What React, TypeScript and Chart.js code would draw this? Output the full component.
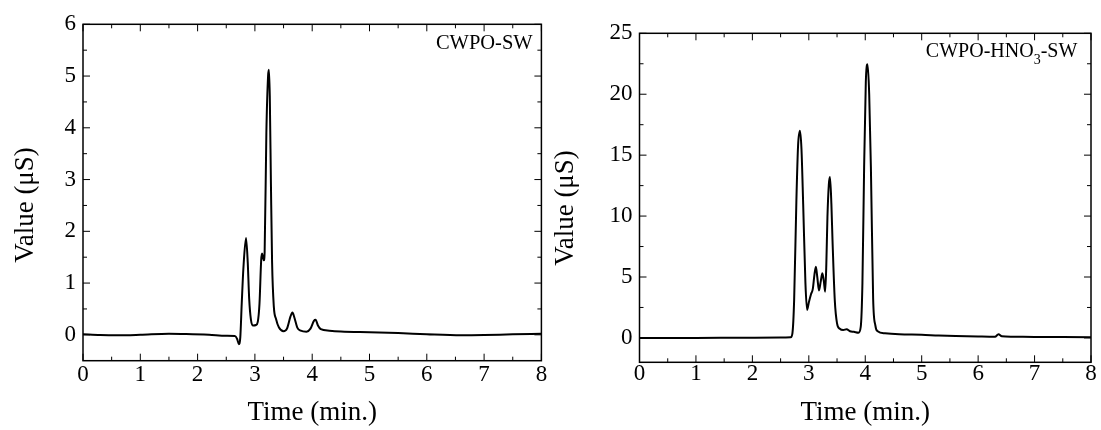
import React, { useEffect, useRef } from "react";
import { Chart, registerables } from "chart.js";

Chart.register(...registerables);

// ---------- data ----------
const leftTime = [
  0, 0.3, 0.6, 1.0, 1.5, 1.8, 2.2, 2.5, 2.65, 2.69, 2.72, 2.745, 2.77, 2.8, 2.845, 2.875, 2.9, 2.93,
  2.97, 3.02, 3.05, 3.08, 3.11, 3.125, 3.14, 3.155, 3.17, 3.2, 3.23, 3.245, 3.26, 3.28, 3.3, 3.33,
  3.37, 3.42, 3.5, 3.56, 3.62, 3.655, 3.69, 3.74, 3.8, 3.9, 3.97, 4.03, 4.06, 4.1, 4.15, 4.3, 4.5,
  5.0, 5.5, 6.0, 6.6, 7.0, 7.5, 8.0,
];
const leftValue = [
  0.01, -0.005, -0.01, 0.0, 0.02, 0.015, 0.0, -0.02, -0.025, -0.08, -0.18, -0.05, 0.6, 1.3, 1.87, 1.4,
  0.7, 0.3, 0.18, 0.19, 0.25, 0.6, 1.45, 1.57, 1.5, 1.44, 1.6, 3.9, 5.0, 5.12, 4.6, 2.9, 1.4, 0.55,
  0.3, 0.14, 0.07, 0.12, 0.35, 0.43, 0.33, 0.14, 0.08, 0.06, 0.12, 0.27, 0.29, 0.18, 0.11, 0.08, 0.065,
  0.05, 0.035, 0.01, -0.01, -0.005, 0.01, 0.02,
];

const rightTime = [
  0, 1.0, 1.8, 2.5, 2.68, 2.71, 2.74, 2.78, 2.81, 2.843, 2.87, 2.9, 2.94, 2.97, 3.0, 3.04, 3.07, 3.1,
  3.125, 3.15, 3.18, 3.21, 3.24, 3.265, 3.29, 3.31, 3.33, 3.355, 3.375, 3.4, 3.42, 3.46, 3.5, 3.55,
  3.61, 3.67, 3.73, 3.8, 3.88, 3.92, 3.95, 3.98, 4.01, 4.04, 4.07, 4.1, 4.14, 4.18, 4.22, 4.35, 4.6,
  5.0, 5.3, 5.6, 6.0, 6.3, 6.36, 6.42, 6.6, 7.0, 7.5, 8.0,
];
const rightValue = [
  0, 0, 0.02, 0.03, 0.05, 0.4, 3.1, 11.3, 15.8, 17.0, 15.5, 11.0, 4.5, 2.3, 2.9, 3.6, 4.0, 5.2, 5.84,
  5.0, 3.9, 4.6, 5.3, 4.7, 3.8, 6.0, 9.9, 12.6, 13.2, 11.0, 8.0, 3.1, 1.2, 0.75, 0.65, 0.72, 0.55, 0.5,
  0.43, 0.9, 4.5, 14, 21, 22.45, 20, 14, 3.2, 1.0, 0.55, 0.38, 0.3, 0.26, 0.2, 0.16, 0.12, 0.1, 0.3,
  0.13, 0.1, 0.08, 0.07, 0.06,
];

const xTickValues = [0, 1, 2, 3, 4, 5, 6, 7, 8];
const leftYTickValues = [0, 1, 2, 3, 4, 5, 6];
const rightYTickValues = [0, 5, 10, 15, 20, 25];

const leftLabelParts = ["CWPO-SW"];
const rightLabelParts = ["CWPO-HNO", "3", "-SW"];
const xTitle = "Time (min.)";
const yTitle = "Value (μS)";

const FONT = "'Liberation Serif', 'Times New Roman', Times, serif";

type PanelCfg = {
  left: number;
  width: number;
  times: number[];
  values: number[];
  yMin: number;
  yMax: number;
  yTicks: number[];
  padTop: number;
  padRight: number;
  yAxisWidth: number;
  xAxisHeight: number;
  xTickPad: number;
  xTitlePadBottom: number;
  yTitleDX: number;
  yTitleDY: number;
  label: string[];
  labelSize: number;
  labelDX: number;
  labelDY: number;
};

const panels: PanelCfg[] = [
  {
    left: 0,
    width: 550,
    times: leftTime,
    values: leftValue,
    yMin: -0.5,
    yMax: 6,
    yTicks: leftYTickValues,
    padTop: 24.3,
    padRight: 8.6,
    yAxisWidth: 83,
    xAxisHeight: 69.3,
    xTickPad: 0.5,
    xTitlePadBottom: 1,
    yTitleDX: -57,
    yTitleDY: 12.5,
    label: leftLabelParts,
    labelSize: 20.5,
    labelDX: -8.7,
    labelDY: 25,
  },
  {
    left: 550,
    width: 551,
    times: rightTime,
    values: rightValue,
    yMin: -2,
    yMax: 25,
    yTicks: rightYTickValues,
    padTop: 33.3,
    padRight: 10,
    yAxisWidth: 89.5,
    xAxisHeight: 67.7,
    xTickPad: -2,
    xTitlePadBottom: 1,
    yTitleDX: -73.5,
    yTitleDY: 10.2,
    label: rightLabelParts,
    labelSize: 20,
    labelDX: -13.7,
    labelDY: 24,
  },
];

function minorValues(scale: any): number[] {
  const vals: number[] = scale.ticks.map((t: any) => t.value);
  const out: number[] = [];
  if (vals.length < 2) return out;
  const step = vals[1] - vals[0];
  for (let v = vals[0] - step / 2; v < scale.max; v += step) {
    if (v > scale.min + 1e-9 && v < scale.max - 1e-9) out.push(v);
  }
  return out;
}

function makeFramePlugin(cfg: PanelCfg) {
  return {
    id: "frameAndLabels",
    afterDatasetsDraw(chart: any) {
      const { ctx, chartArea: a, scales } = chart;
      const xs = scales.x;
      const ys = scales.y;
      ctx.save();
      ctx.strokeStyle = "#000";
      ctx.lineWidth = 1;
      const major = 7;
      const minor = 4;
      ctx.beginPath();
      const xMaj = xs.ticks.map((t: any) => t.value);
      const xMin = minorValues(xs);
      const doX = (v: number, len: number) => {
        const px = xs.getPixelForValue(v);
        ctx.moveTo(px, a.bottom);
        ctx.lineTo(px, a.bottom - len);
        ctx.moveTo(px, a.top);
        ctx.lineTo(px, a.top + len);
      };
      xMaj.forEach((v: number) => doX(v, major));
      xMin.forEach((v: number) => doX(v, minor));
      const yMaj = ys.ticks.map((t: any) => t.value);
      const yMin = minorValues(ys);
      const doY = (v: number, len: number) => {
        const py = ys.getPixelForValue(v);
        ctx.moveTo(a.left, py);
        ctx.lineTo(a.left + len, py);
        ctx.moveTo(a.right, py);
        ctx.lineTo(a.right - len, py);
      };
      yMaj.forEach((v: number) => doY(v, major));
      yMin.forEach((v: number) => doY(v, minor));
      ctx.stroke();

      ctx.lineWidth = 1.5;
      ctx.strokeRect(a.left, a.top, a.right - a.left, a.bottom - a.top);

      // panel label (with subscript)
      ctx.fillStyle = "#000";
      ctx.textBaseline = "alphabetic";
      ctx.textAlign = "left";
      const big = `${cfg.labelSize}px ${FONT}`;
      const small = `${Math.round(cfg.labelSize * 0.68)}px ${FONT}`;
      const widths = cfg.label.map((p, i) => {
        ctx.font = i % 2 ? small : big;
        return ctx.measureText(p).width;
      });
      const total = widths.reduce((s, w) => s + w, 0);
      let x = a.right + cfg.labelDX - total;
      const baseY = a.top + cfg.labelDY;
      cfg.label.forEach((p, i) => {
        ctx.font = i % 2 ? small : big;
        ctx.fillText(p, x, i % 2 ? baseY + 7 : baseY);
        x += widths[i];
      });

      // y axis title
      ctx.font = `27px ${FONT}`;
      ctx.textAlign = "center";
      ctx.textBaseline = "middle";
      ctx.translate(a.left + cfg.yTitleDX, (a.top + a.bottom) / 2 + cfg.yTitleDY);
      ctx.rotate(-Math.PI / 2);
      ctx.fillText(yTitle, 0, 0);
      ctx.restore();
    },
  };
}

function Panel({ cfg }: { cfg: PanelCfg }) {
  const ref = useRef<HTMLCanvasElement>(null);
  useEffect(() => {
    if (!ref.current) return;
    const tickFont = { family: FONT, size: 23 };
    const chart = new Chart(ref.current, {
      type: "line",
      data: {
        datasets: [
          {
            data: cfg.times.map((t, i) => ({ x: t, y: cfg.values[i] })),
            borderColor: "#000",
            borderWidth: 2,
            pointRadius: 0,
            cubicInterpolationMode: "monotone",
            fill: false,
          },
        ],
      },
      options: {
        responsive: false,
        animation: false,
        devicePixelRatio: 1,
        events: [],
        layout: { padding: { left: 0, right: cfg.padRight, top: cfg.padTop, bottom: 0 } },
        plugins: { legend: { display: false }, tooltip: { enabled: false } },
        scales: {
          x: {
            type: "linear",
            min: 0,
            max: 8,
            afterBuildTicks: (s: any) => {
              s.ticks = xTickValues.map((v) => ({ value: v }));
            },
            afterFit: (s: any) => {
              s.height = cfg.xAxisHeight;
              s.paddingLeft = 0;
              s.paddingRight = 0;
            },
            ticks: {
              font: tickFont,
              color: "#000",
              padding: cfg.xTickPad,
              maxRotation: 0,
              autoSkip: false,
              callback: (v: any) => String(v),
            },
            grid: { display: false, drawTicks: false },
            border: { display: false },
            title: {
              display: true,
              text: xTitle,
              color: "#000",
              font: { family: FONT, size: 27 },
              padding: { top: 0, bottom: cfg.xTitlePadBottom },
            },
          },
          y: {
            type: "linear",
            min: cfg.yMin,
            max: cfg.yMax,
            afterBuildTicks: (s: any) => {
              s.ticks = cfg.yTicks.map((v) => ({ value: v }));
            },
            afterFit: (s: any) => {
              s.width = cfg.yAxisWidth;
              s.paddingTop = 0;
              s.paddingBottom = 0;
            },
            ticks: {
              font: tickFont,
              color: "#000",
              padding: 7,
              autoSkip: false,
              callback: (v: any) => String(v),
            },
            grid: { display: false, drawTicks: false },
            border: { display: false },
          },
        },
      } as any,
      plugins: [makeFramePlugin(cfg)],
    });
    return () => chart.destroy();
  }, [cfg]);
  return (
    <canvas
      ref={ref}
      width={cfg.width}
      height={430}
      style={{ position: "absolute", left: cfg.left, top: 0, width: cfg.width, height: 430 }}
    />
  );
}

export default function App() {
  return (
    <div
      style={{
        position: "fixed",
        left: 0,
        top: 0,
        width: 1101,
        height: 430,
        background: "#fff",
        overflow: "hidden",
      }}
    >
      {panels.map((p, i) => (
        <Panel key={i} cfg={p} />
      ))}
    </div>
  );
}
